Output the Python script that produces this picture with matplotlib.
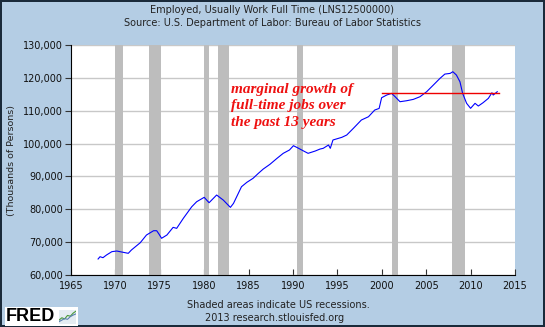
import matplotlib
matplotlib.use('Agg')
import matplotlib.pyplot as plt
from matplotlib.patches import Rectangle
from matplotlib.ticker import FuncFormatter, MultipleLocator

# full-time employed, thousands of persons
years = [1968.05, 1968.27, 1968.6, 1969.0, 1969.6, 1970.15, 1970.7, 1971.45, 1971.8,
         1972.8, 1973.5, 1974.3, 1974.65, 1974.9, 1975.2, 1975.8, 1976.5, 1976.9,
         1977.65, 1978.6, 1979.15, 1980.0, 1980.55, 1981.4, 1982.15, 1982.95, 1983.3,
         1984.2, 1984.8, 1985.5, 1986.1, 1986.65, 1987.4, 1988.2, 1988.9, 1989.6,
         1990.05, 1990.5, 1991.2, 1991.7, 1992.5, 1993.05, 1993.4, 1994.0, 1994.2,
         1994.5, 1995.5, 1996.05, 1996.8, 1997.7, 1998.5, 1999.2, 1999.7, 1999.98,
         2000.55, 2001.1, 2001.5, 2002.05, 2002.8, 2003.55, 2004.3, 2005.05, 2005.8,
         2006.55, 2007.1, 2007.7, 2008.0, 2008.4, 2008.8, 2009.1, 2009.55, 2010.0,
         2010.5, 2010.87, 2011.4, 2012.0, 2012.4, 2012.55, 2013.0]
fulltime = [64870, 65570, 65270, 66090, 67100, 67300, 67000, 66600, 67600,
            69830, 72170, 73480, 73480, 72480, 71170, 72170, 74500, 74200,
            77250, 80780, 82300, 83640, 82000, 84340, 82800, 80580, 81800,
            86870, 88200, 89420, 90940, 92250, 93680, 95510, 97030, 98040,
            99350, 98740, 97730, 97030, 97730, 98340, 98550, 99560, 98550,
            101090, 101900, 102600, 104640, 107170, 108170, 110200, 110700, 113950,
            114770, 115280, 114260, 112740, 113040, 113450, 114260, 115780, 117800,
            119840, 121150, 121360, 121870, 120860, 118820, 115300, 112250, 110730,
            112250, 111430, 112430, 113760, 115470, 114770, 115780]

recessions = [(1969.92, 1970.83), (1973.83, 1975.17), (1980.0, 1980.5),
              (1981.5, 1982.83), (1990.5, 1991.17), (2001.17, 2001.83),
              (2007.92, 2009.42)]

flat_start, flat_end, flat_level = 2000.0, 2013.2, 115300

# little squiggles inside the FRED logo icon
icon_x = [0, 1, 2, 3, 4, 5, 6]
icon_green = [1.0, 1.6, 1.3, 2.2, 2.0, 2.8, 3.3]
icon_blue = [0.6, 1.0, 1.4, 1.2, 1.9, 2.3, 2.6]

bg = '#B4CDE4'

fig = plt.figure(figsize=(5.45, 3.27), dpi=100, facecolor=bg)
fig.patch.set_edgecolor('#1a2a3a')
fig.patch.set_linewidth(1.5)
ax = fig.add_axes([71/545, 1 - 275/327, 444/545, 230/327])
ax.set_facecolor('white')

for s, e in recessions:
    ax.axvspan(s, e, color='#BDBDBD', lw=0, zorder=2)

ax.plot(years, fulltime, color='#0000FF', lw=0.8, zorder=4)
ax.plot([flat_start, flat_end], [flat_level, flat_level], color='#EE0000', lw=1.0, zorder=5)

ax.set_xlim(1965, 2015)
ax.set_ylim(60000, 130000)
ax.xaxis.set_major_locator(MultipleLocator(5))
ax.yaxis.set_major_locator(MultipleLocator(10000))
ax.yaxis.set_major_formatter(FuncFormatter(lambda v, p: f'{int(v):,}'))
ax.yaxis.grid(True, color='#C8C8C8', lw=1.0, zorder=1)
ax.set_axisbelow(True)

for side in ['top', 'right']:
    ax.spines[side].set_visible(False)
ax.spines['left'].set_color('black')
ax.spines['bottom'].set_color('black')
ax.tick_params(axis='y', direction='out', length=4, width=0.8, labelsize=7, pad=2,
               color='#333333', labelcolor='#111111')
ax.tick_params(axis='x', direction='in', length=4, width=0.8, labelsize=7, pad=4,
               color='#333333', labelcolor='#111111')
ax.set_ylabel('(Thousands of Persons)', fontsize=6.8, color='#222222')
ax.yaxis.set_label_coords(-0.124, 0.5)

ax.text(0.3604, 0.835, 'marginal growth of\nfull-time jobs over\nthe past 13 years',
        transform=ax.transAxes, ha='left', va='top', color='#EE1111',
        family='Liberation Serif', style='italic', weight='bold', fontsize=11,
        linespacing=1.35, zorder=6)

fig.text(0.5, 1 - 10/327, 'Employed, Usually Work Full Time (LNS12500000)',
         ha='center', va='center', fontsize=7, color='#222222')
fig.text(0.5, 1 - 22.5/327, 'Source: U.S. Department of Labor: Bureau of Labor Statistics',
         ha='center', va='center', fontsize=7, color='#222222')
fig.text(278/545, 1 - 305/327, 'Shaded areas indicate US recessions.',
         ha='center', va='center', fontsize=7, color='#222222')
fig.text(275/545, 1 - 318/327, '2013 research.stlouisfed.org',
         ha='center', va='center', fontsize=7, color='#222222')

# FRED logo
fig.patches.append(Rectangle((4.5/545, 1 - 326/327), 73/545, 19/327,
                             transform=fig.transFigure, facecolor='white',
                             edgecolor='none', zorder=1))
fig.text(6/545, 1 - 316.5/327, 'FRED', ha='left', va='center', fontsize=13,
         weight='bold', color='black', family='Liberation Sans', zorder=2)
icon = fig.add_axes([59/545, 1 - 324/327, 17/545, 14/327], zorder=3)
icon.set_facecolor('#E4ECF2')
icon.plot(icon_x, icon_green, color='#4A9A3A', lw=0.8)
icon.plot(icon_x, icon_blue, color='#5A7FB0', lw=0.8)
icon.set_xlim(0, 6)
icon.set_ylim(0, 3.6)
icon.set_xticks([])
icon.set_yticks([])
for sp in icon.spines.values():
    sp.set_visible(False)

fig.savefig('out.png', dpi=100, facecolor=bg, edgecolor=fig.patch.get_edgecolor())
